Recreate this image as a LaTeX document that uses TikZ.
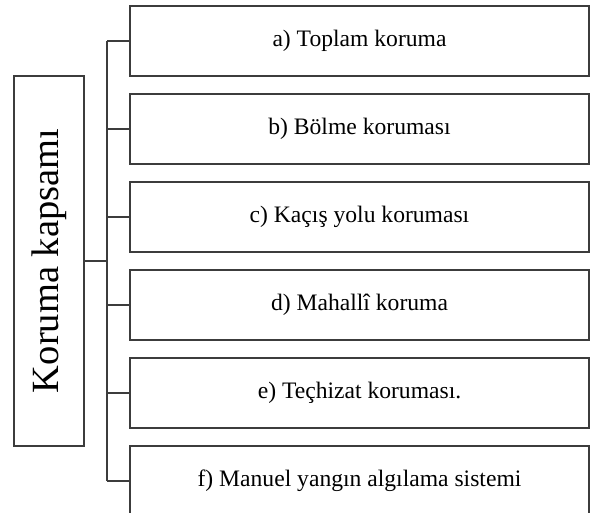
\documentclass[tikz,border=0pt]{standalone}
\usepackage{fontspec}
\setmainfont{Liberation Serif}
\definecolor{linec}{RGB}{60,60,60}
\begin{document}
\begin{tikzpicture}[x=1pt,y=1pt,
  itembox/.style={draw=linec, line width=1.2pt, minimum width=459pt, minimum height=70pt, inner sep=0pt, font=\fontsize{23.6}{27}\selectfont},
  mainbox/.style={draw=linec, line width=1.2pt, minimum width=70pt, minimum height=370pt, inner sep=0pt, font=\fontsize{38.5}{44}\selectfont},
  conn/.style={draw=linec, line width=1.2pt}]
\useasboundingbox (0,0) rectangle (595,513);
\clip (0,0) rectangle (595,513);
\node[mainbox] (main) at (49,252) {\rotatebox{90}{Koruma kapsamı}};
\node[itembox] (a) at (359.5,472) {a) Toplam koruma};
\node[itembox] (b) at (359.5,384) {b) Bölme koruması};
\node[itembox] (c) at (359.5,296) {c) Kaçış yolu koruması};
\node[itembox] (d) at (359.5,208) {d) Mahallî koruma};
\node[itembox] (e) at (359.5,120) {e) Teçhizat koruması.};
\node[itembox] (f) at (359.5,32) {f) Manuel yangın algılama sistemi};
\coordinate (top) at (107,472);
\coordinate (bot) at (107,32);
\draw[conn] (top) -- (bot);
\draw[conn] (main.east) -- (main.east -| top);
\foreach \n in {a,b,c,d,e,f}{
  \draw[conn] (\n.west) -- (\n.west -| top);
}
\end{tikzpicture}
\end{document}
